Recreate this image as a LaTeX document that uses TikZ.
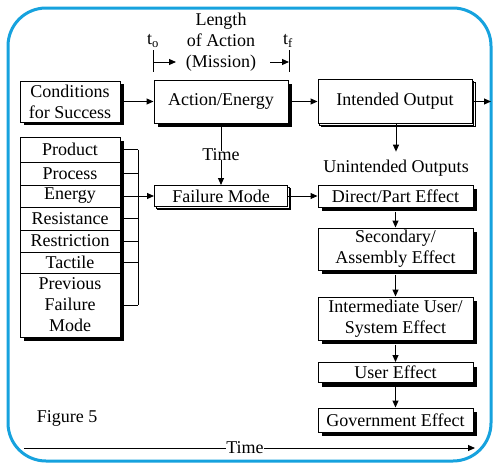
\documentclass[tikz,border=0pt]{standalone}
\usepackage{fontspec}
\setmainfont{Liberation Serif}
\usetikzlibrary{shadows,arrows.meta}
\definecolor{frameblue}{RGB}{22,162,222}

\begin{document}
\begin{tikzpicture}[x=1pt,y=-1pt,
  every node/.style={font=\fontsize{18}{21}\selectfont, inner sep=0pt},
  box/.style={draw, line width=1pt, fill=white, align=center},
  stacked/.style={copy shadow={shadow xshift=3pt,shadow yshift=-3pt,line width=0.6pt},
                  copy shadow={shadow xshift=1.5pt,shadow yshift=-1.5pt,line width=0.6pt}},
  row/.style={draw, line width=1pt, minimum width=100pt, align=center},
  effect/.style={box, minimum width=155pt},
  link/.style={line width=1pt},
  arr/.style={link, -{Triangle[length=7pt,width=6pt]}},
  shade box/.style={fill=black},
]
\useasboundingbox (0,0) rectangle (493,464);
\fill[white] (0,0) rectangle (493,464);

% rounded frame
\draw[line width=3pt, frameblue, rounded corners=38pt] (8,8) rectangle (491,461);

% solid black drop shadows, drawn first so the boxes sit on top of them
\fill[shade box] (24,84) rectangle (124,125);     % Conditions for Success
\fill[shade box] (158,84) rectangle (292,127);    % Action/Energy
\fill[shade box] (24,141) rectangle (124,341);    % list of causes
\fill[shade box] (322,189) rectangle (477,211);   % Direct/Part Effect
\fill[shade box] (322,232) rectangle (477,274);   % Secondary/Assembly Effect
\fill[shade box] (322,301) rectangle (477,344);   % Intermediate User/System Effect
\fill[shade box] (322,366.5) rectangle (477,386.5); % User Effect
\fill[shade box] (322,412) rectangle (477,436);   % Government Effect

% mission timing marks
\node[align=center] (length) at (221,42) {Length\\of Action\\(Mission)};
\node (to) at (153,41) {t\textsubscript{o}};
\node (tf) at (288,41) {t\textsubscript{f}};
\coordinate (toTop) at (153,50);
\coordinate (toBot) at (153,72);
\coordinate (toMid) at (153,62);
\coordinate (toTip) at (176,62);
\coordinate (tfTop) at (289,50);
\coordinate (tfBot) at (289,72);
\coordinate (tfMid) at (289,62);
\coordinate (tfTail) at (270,62);
\draw[link] (toTop) -- (toBot);
\draw[arr] (toMid) -- (toTip);
\draw[link] (tfTop) -- (tfBot);
\draw[arr] (tfTail) -- (tfMid);

% top row
\node[box,minimum width=100pt,minimum height=41pt] (cond) at (70,101.5) {Conditions\\for Success};
\node[box,minimum width=134pt,minimum height=43pt] (act) at (221,101.5) {Action/Energy};
\node[box,stacked,minimum width=154pt,minimum height=44pt] (intended) at (395,101.5) {Intended Output};
\coordinate (outR) at (491,101.5);

\draw[arr] (cond) -- (act);
\draw[arr] (act) -- (intended);
\draw[arr] (intended) -- (outR);

% list of causes
\node[draw, line width=1pt, fill=white, minimum width=100pt, minimum height=200pt] (listframe) at (70,237) {};
\node[row, minimum height=25pt] (product) at (70,149.5) {Product};
\node[row, minimum height=23pt] (process) at (70,173.5) {Process};
\node[row, minimum height=22pt] (energy) at (70,196) {Energy};
\node[row, minimum height=23pt] (resist) at (70,218.5) {Resistance};
\node[row, minimum height=22pt] (restrict) at (70,241) {Restriction};
\node[row, minimum height=21pt] (tactile) at (70,262.5) {Tactile};
\node[row, minimum height=64pt] (prev) at (70,305) {Previous\\Failure\\Mode};

% bracket gathering the causes
\coordinate (brk) at (138,0);
\foreach \r in {product,process,energy,resist,restrict,tactile,prev}
  \draw[link] (\r.east -| listframe.east) -- (\r.east -| brk);
\draw[link] (product.east -| brk) -- (prev.east -| brk);

% failure mode
\node (time1) at (221,155) {Time};
\node[box,stacked,minimum width=133pt,minimum height=21pt] (fm) at (221,196) {Failure Mode};
\draw[arr] (energy.east) -- (fm.west);
\draw[link] (act.south) -- ([yshift=-2pt]time1.north);
\draw[arr] ([yshift=1pt]time1.south) -- (fm.north);

% effects chain
\node (unint) at (396,168) {Unintended Outputs};
\draw[arr, shorten >=8pt] (intended.south -| unint.north) -- (unint.north);

\node[effect, minimum height=22pt] (direct) at (395.5,196) {Direct/Part Effect};
\node[effect, minimum height=42pt] (second) at (395.5,249) {Secondary/\\Assembly Effect};
\node[effect, minimum height=43pt] (inter) at (395.5,318.5) {Intermediate User/\\System Effect};
\node[effect, minimum height=20pt] (user) at (395.5,372.5) {User Effect};
\node[effect, minimum height=24pt] (gov) at (395.5,420) {Government Effect};

\draw[arr] (fm.east) -- (direct.west);
\draw[arr] ([yshift=-4pt]direct.south) -- (second.north);
\draw[arr] ([yshift=-4pt]second.south) -- (inter.north);
\draw[arr] ([yshift=-4pt]inter.south) -- (user.north);
\draw[arr] ([yshift=-4pt]user.south) -- (gov.north);

% caption and time axis
\node (fig) at (67,418) {Figure 5};
\node (taxis) at (245,448) {Time};
\coordinate (t0) at (24,448);
\coordinate (t1) at (475,448);
\draw[link] (t0) -- (taxis.west);
\draw[arr] (taxis.east) -- (t1);
\end{tikzpicture}
\end{document}
